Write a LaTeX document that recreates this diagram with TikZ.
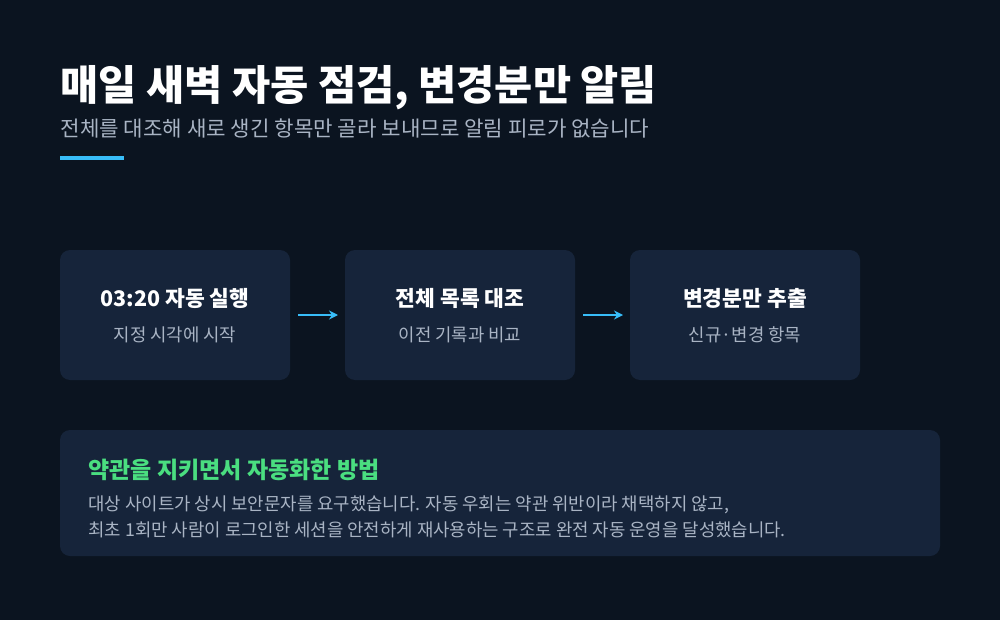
\documentclass[tikz,border=0pt]{standalone}
\usepackage{fontspec}
\setmainfont{Noto Sans CJK KR}
\usetikzlibrary{positioning,arrows.meta}
\definecolor{bgc}{HTML}{0B1420}
\definecolor{cardc}{HTML}{16243A}
\definecolor{accent}{HTML}{38BDF8}
\definecolor{greenc}{HTML}{4ADE80}
\definecolor{subc}{HTML}{A9B4C4}
\begin{document}
\begin{tikzpicture}[x=1pt,y=-1pt,
	card/.style={fill=cardc,rounded corners=10pt},
	ttl/.style={text=white,font=\fontsize{21.5}{25}\selectfont\bfseries},
	sub/.style={text=subc,font=\fontsize{17.8}{21}\selectfont},
	flow/.style={accent,line width=2.5pt,-{Stealth[length=9pt,width=9pt]}}]
	\fill[bgc] (0,0) rectangle (1000,620);
	\node[anchor=west,text=white,font=\fontsize{41.5}{48}\selectfont\bfseries] (title) at (57,88) {매일 새벽 자동 점검, 변경분만 알림};
	\node[anchor=west,text=subc,font=\fontsize{21.2}{25}\selectfont] (subtitle) at (57,128) {전체를 대조해 새로 생긴 항목만 골라 보내므로 알림 피로가 없습니다};
	\fill[accent] (60,156) rectangle (124,160);
	% three steps
	\foreach \x/\name/\t/\s in {60/run/03:20 자동 실행/지정 시각에 시작,345/cmp/전체 목록 대조/이전 기록과 비교,630/diff/변경분만 추출/신규·변경 항목}{
		\fill[card] (\x,250) rectangle ++(230,130);
		\node[ttl] (\name) at (\x+115,298) {\t};
		\node[sub] (\name s) at (\x+115,335) {\s};
	}
	\coordinate (a1) at (298,315); \coordinate (b1) at (338,315);
	\coordinate (a2) at (583,315); \coordinate (b2) at (623,315);
	\draw[flow] (a1) -- (b1);
	\draw[flow] (a2) -- (b2);
	% note box
	\fill[card] (60,430) rectangle (940,556);
	\node[anchor=west,text=greenc,font=\fontsize{23}{27}\selectfont\bfseries] (note) at (85,470) {약관을 지키면서 자동화한 방법};
	\node[anchor=west,sub] (line1) at (85,505) {대상 사이트가 상시 보안문자를 요구했습니다. 자동 우회는 약관 위반이라 채택하지 않고,};
	\node[anchor=west,sub] (line2) at (85,530) {최초 1회만 사람이 로그인한 세션을 안전하게 재사용하는 구조로 완전 자동 운영을 달성했습니다.};
\end{tikzpicture}
\end{document}
